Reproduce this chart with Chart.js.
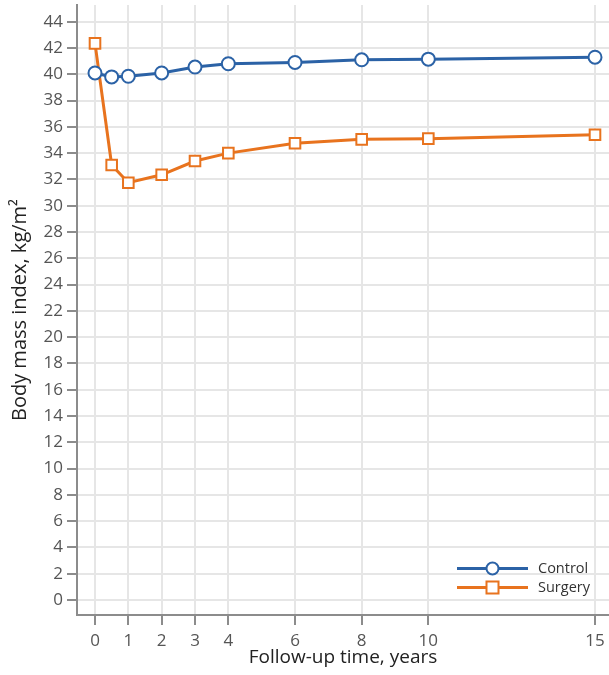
<!DOCTYPE html>
<html>
<head>
<meta charset="utf-8">
<script src="https://cdn.jsdelivr.net/npm/chart.js@4"></script>
<style>
    html, body { margin: 0; padding: 0; background: #fff; overflow: hidden; }
    #wrap { width: 609px; height: 675px; }
    #bmi-chart { display: block; }
</style>
</head>
<body>
<div id="wrap"><canvas id="bmi-chart" width="609" height="675"></canvas></div>
<script>
// Данные графика
const years = [0, 0.5, 1, 2, 3, 4, 6, 8, 10, 15];
const controlBmi = [40.1, 39.8, 39.85, 40.1, 40.55, 40.8, 40.9, 41.1, 41.15, 41.3];
const surgeryBmi = [42.35, 33.1, 31.75, 32.35, 33.4, 34.0, 34.75, 35.05, 35.1, 35.4];
const xTicks = [0, 1, 2, 3, 4, 6, 8, 10, 15];
const yTicks = [0, 2, 4, 6, 8, 10, 12, 14, 16, 18, 20, 22, 24, 26, 28, 30, 32, 34, 36, 38, 40, 42, 44];

const BLUE = '#2b62a6';
const ORANGE = '#e8731e';
const FONT = '"Open Sans", "Noto Sans", sans-serif';

// Без отступов под крайние подписи осей
function noPadding() {
    this.paddingLeft = 0;
    this.paddingRight = 0;
    this.paddingTop = 0;
    this.paddingBottom = 0;
}

// Легенда с линией и маркером
const lineLegend = {
    id: 'lineLegend',
    afterDraw(chart) {
        const ctx = chart.ctx;
        const area = chart.chartArea;
        const items = [
            { label: 'Control', color: BLUE, shape: 'circle' },
            { label: 'Surgery', color: ORANGE, shape: 'rect' }
        ];
        const x0 = area.right - 152;
        const x1 = area.right - 81;
        items.forEach((item, i) => {
            const y = area.bottom - 46.5 + i * 19;
            ctx.save();
            ctx.strokeStyle = item.color;
            ctx.lineWidth = 3;
            ctx.beginPath();
            ctx.moveTo(x0, y);
            ctx.lineTo(x1, y);
            ctx.stroke();
            const cx = (x0 + x1) / 2;
            ctx.fillStyle = '#fff';
            ctx.lineWidth = 2;
            ctx.beginPath();
            if (item.shape === 'circle') {
                ctx.arc(cx, y, 6, 0, Math.PI * 2);
            } else {
                ctx.rect(cx - 6, y - 6, 12, 12);
            }
            ctx.fill();
            ctx.stroke();
            ctx.fillStyle = '#333';
            ctx.font = '14.5px ' + FONT;
            ctx.textBaseline = 'middle';
            ctx.fillText(item.label, x1 + 10, y);
            ctx.restore();
        });
    }
};

new Chart(document.getElementById('bmi-chart'), {
    type: 'line',
    data: {
        datasets: [
            {
                label: 'Control',
                data: years.map((x, i) => ({ x: x, y: controlBmi[i] })),
                borderColor: BLUE,
                backgroundColor: '#fff',
                borderWidth: 3,
                pointStyle: 'circle',
                pointRadius: 6.5,
                pointBorderWidth: 2,
                tension: 0
            },
            {
                label: 'Surgery',
                data: years.map((x, i) => ({ x: x, y: surgeryBmi[i] })),
                borderColor: ORANGE,
                backgroundColor: '#fff',
                borderWidth: 3,
                pointStyle: 'rect',
                pointRadius: 7.5,
                pointBorderWidth: 2,
                tension: 0
            }
        ]
    },
    options: {
        responsive: false,
        animation: false,
        layout: { autoPadding: false, padding: { top: 5, right: 0, bottom: 6, left: 0 } },
        plugins: {
            legend: { display: false },
            tooltip: { enabled: false }
        },
        scales: {
            x: {
                type: 'linear',
                min: -0.54,
                max: 15.42,
                afterBuildTicks: (scale) => {
                    scale.ticks = xTicks.map(v => ({ value: v }));
                    scale._calculatePadding = noPadding;
                },
                afterFit: (scale) => { scale.height = 54; },
                grid: { color: '#e6e6e6', lineWidth: 2, tickColor: '#8c8c8c', tickLength: 10 },
                border: { color: '#8c8c8c', width: 2 },
                ticks: { color: '#555', font: { family: FONT, size: 17 }, padding: 6, maxRotation: 0, autoSkip: false },
                title: { display: true, text: 'Follow-up time, years', color: '#222', font: { family: FONT, size: 19 }, padding: 0 }
            },
            y: {
                type: 'linear',
                min: -1.14,
                max: 45.27,
                afterBuildTicks: (scale) => {
                    scale.ticks = yTicks.map(v => ({ value: v }));
                    scale._calculatePadding = noPadding;
                },
                afterFit: (scale) => { scale.width = 77; },
                grid: { color: '#e6e6e6', lineWidth: 2, tickColor: '#8c8c8c', tickLength: 10 },
                border: { color: '#8c8c8c', width: 2 },
                ticks: { color: '#555', font: { family: FONT, size: 17 }, padding: 4, autoSkip: false },
                title: { display: true, text: 'Body mass index, kg/m²', color: '#222', font: { family: FONT, size: 20 }, padding: { top: 8, bottom: 0 } }
            }
        }
    },
    plugins: [lineLegend]
});
</script>
</body>
</html>
